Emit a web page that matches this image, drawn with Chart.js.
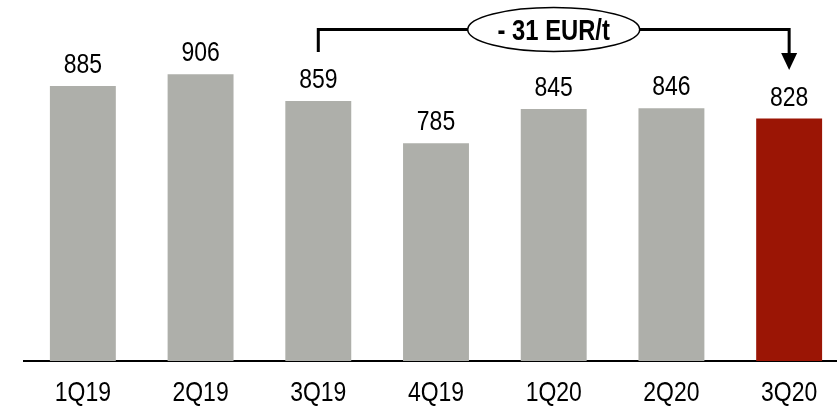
<!DOCTYPE html>
<html>
<head>
<meta charset="utf-8">
<script src="https://cdn.jsdelivr.net/npm/chart.js@4.4.1/dist/chart.umd.min.js"></script>
<style>
  html, body { margin: 0; padding: 0; background: #fff; overflow: hidden; }
  #wrap { width: 837px; height: 407px; overflow: hidden; }
  #wrap div { width: 850px; height: 407px; }
</style>
</head>
<body>
<div id="wrap"><div><canvas id="priceChart"></canvas></div></div>
<script>
const categories = ["1Q19", "2Q19", "3Q19", "4Q19", "1Q20", "2Q20", "3Q20"];
const prices = [885, 906, 859, 785, 845, 846, 828];
const barColors = ["#aeafaa", "#aeafaa", "#aeafaa", "#aeafaa", "#aeafaa", "#aeafaa", "#9b1505"];
const deltaLabel = "- 31 EUR/t";
const deltaFrom = 2;
const deltaTo = 6;

const FONT = "'Liberation Sans', Arial, sans-serif";
const NARROW = 0.82; // Arial Narrow is Arial squeezed to ~82% width

// draw text squeezed horizontally, centred on x
function narrowText(ctx, text, x, y) {
  ctx.save();
  ctx.translate(x, y);
  ctx.scale(NARROW, 1);
  ctx.fillText(text, 0, 0);
  ctx.restore();
}

// value labels above bars + category labels under the axis
const labelsPlugin = {
  id: "labelsPlugin",
  afterDatasetsDraw(chart) {
    const ctx = chart.ctx;
    const meta = chart.getDatasetMeta(0);
    const xs = chart.scales.x;
    ctx.save();
    ctx.font = "28px " + FONT;
    ctx.fillStyle = "#000";
    ctx.textAlign = "center";
    ctx.textBaseline = "alphabetic";
    meta.data.forEach((bar, i) => {
      narrowText(ctx, String(prices[i]), bar.x, bar.y - 13);
    });
    xs.ticks.forEach((t, i) => {
      narrowText(ctx, xs.getLabelForValue(t.value), xs.getPixelForTick(i), 400.5);
    });
    ctx.restore();
  }
};

// bracket with arrow and oval label
const deltaBracket = {
  id: "deltaBracket",
  afterDraw(chart) {
    const ctx = chart.ctx;
    const xs = chart.scales.x;
    const x1 = xs.getPixelForValue(deltaFrom);
    const x2 = xs.getPixelForValue(deltaTo);
    const yTop = 29.5;
    ctx.save();
    ctx.strokeStyle = "#000";
    ctx.lineWidth = 3;
    ctx.beginPath();
    ctx.moveTo(x1, 52);
    ctx.lineTo(x1, yTop);
    ctx.lineTo(x2, yTop);
    ctx.lineTo(x2, 55);
    ctx.stroke();
    // arrow head
    ctx.fillStyle = "#000";
    ctx.beginPath();
    ctx.moveTo(x2 - 8, 53);
    ctx.lineTo(x2 + 8, 53);
    ctx.lineTo(x2, 70);
    ctx.closePath();
    ctx.fill();
    // oval
    const cx = (x1 + x2) / 2;
    ctx.beginPath();
    ctx.ellipse(cx, yTop, 86, 22, 0, 0, Math.PI * 2);
    ctx.fillStyle = "#fff";
    ctx.fill();
    ctx.lineWidth = 1.5;
    ctx.stroke();
    ctx.fillStyle = "#000";
    ctx.font = "bold 29px " + FONT;
    ctx.textAlign = "center";
    ctx.textBaseline = "alphabetic";
    narrowText(ctx, deltaLabel, cx, yTop + 10);
    ctx.restore();
  }
};

new Chart(document.getElementById("priceChart"), {
  type: "bar",
  data: {
    labels: categories,
    datasets: [{
      data: prices,
      backgroundColor: barColors,
      borderWidth: 0,
      barPercentage: 0.56,
      categoryPercentage: 1
    }]
  },
  options: {
    responsive: true,
    maintainAspectRatio: false,
    animation: false,
    layout: { padding: { left: 24, right: 2, top: 0, bottom: 0 } },
    plugins: {
      legend: { display: false },
      tooltip: { enabled: false }
    },
    scales: {
      x: {
        grid: { display: false, drawTicks: false },
        border: { display: true, color: "#000", width: 2 },
        // labels are drawn condensed by labelsPlugin
        ticks: { display: false },
        afterFit(scale) { scale.height = 46; }
      },
      y: {
        display: false,
        min: 403,
        max: 1036
      }
    }
  },
  plugins: [labelsPlugin, deltaBracket]
});
</script>
</body>
</html>
